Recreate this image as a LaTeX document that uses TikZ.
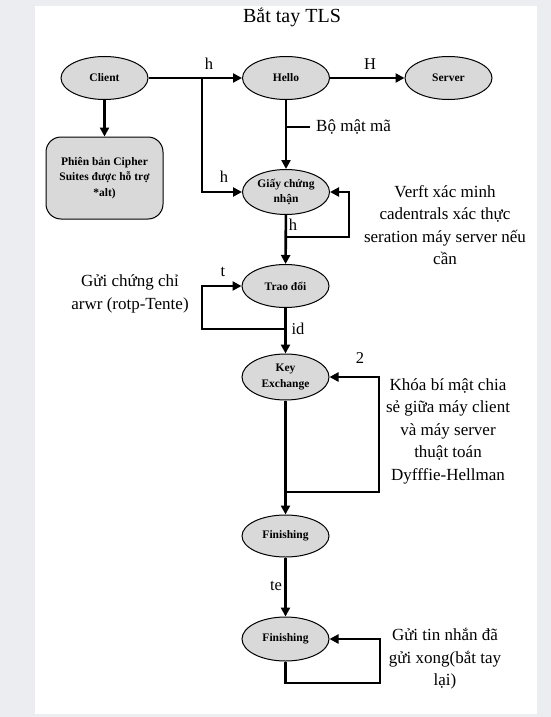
\documentclass[tikz,border=0pt]{standalone}
\usepackage{fontspec}
\setmainfont{Liberation Serif}
\usetikzlibrary{shapes.geometric,arrows.meta}
\definecolor{bggrey}{HTML}{ECEDF1}
\definecolor{nodegrey}{HTML}{D9D9D9}
\tikzset{
  ell/.style={ellipse,draw=black,line width=1pt,fill=nodegrey,minimum width=87pt,minimum height=43pt,inner sep=0pt,align=center,font=\fontsize{11.5}{15.5}\selectfont\bfseries},
  cbox/.style={rectangle,rounded corners=15pt,draw=black,line width=1pt,fill=nodegrey,minimum width=117pt,minimum height=82pt,inner sep=0pt,align=center,font=\fontsize{11.5}{15.5}\selectfont\bfseries},
  arr/.style={line width=2.6pt,-{Triangle[length=9pt,width=9pt]}},
  ln/.style={line width=2.6pt},
  lbl/.style={font=\fontsize{16.5}{18}\selectfont,inner sep=0pt},
  note/.style={font=\fontsize{17}{22.5}\selectfont,align=center,inner sep=0pt},
}
\begin{document}
\begin{tikzpicture}[x=1pt,y=-1pt]
\useasboundingbox (0,0) rectangle (551,717);
\fill[bggrey] (0,0) rectangle (551,717);
\fill[white] (35,6) rectangle (537,714);

\node[font=\fontsize{20}{24}\selectfont] (title) at (292,17) {Bắt tay TLS};

\node[ell] (client) at (104.5,78) {Client};
\node[ell] (hello) at (286,78) {Hello};
\node[ell] (server) at (448.5,78) {Server};
\node[cbox] (cipher) at (104.5,178) {Phiên bản Cipher\\Suites được hỗ trợ\\*alt)};
\node[ell,minimum height=45pt] (cert) at (286,192) {Giấy chứng\\nhận};
\node[ell] (trao) at (285.5,286) {Trao đổi};
\node[ell,minimum height=46pt] (key) at (285.5,377) {Key\\Exchange};
\node[ell,minimum height=42pt] (fin1) at (285.5,536) {Finishing};
\node[ell,minimum height=44pt] (fin2) at (285.5,639) {Finishing};

% top row
\coordinate (j1) at (202,78);
\draw[arr] (client) -- (hello);
\draw[arr] (j1) |- (cert.west);
\node[lbl] (lh1) at (209,64) {h};
\node[lbl] (lh2) at (224,177) {h};
\draw[arr] (hello) -- (server);
\node[lbl] (lH) at (370,64) {H};
\draw[arr] (client) -- (cipher);

% hello -> cert
\draw[arr] (hello) -- (cert);
\coordinate (b1) at (286,127);
\coordinate (b1r) at (310,127);
\draw[ln] (b1) -- (b1r);
\node[note,anchor=west] (bmm) at (316,127) {Bộ mật mã};

% cert -> trao and loop
\draw[arr] (cert) -- (trao);
\coordinate (c1) at (286,237);
\coordinate (c1r) at (349,237);
\draw[arr] (c1) -- (c1r) |- (cert.east);
\node[lbl] (lh3) at (293,225) {h};
\node[note] (verft) at (445,225) {Verft xác minh\\cadentrals xác thực\\seration máy server nếu\\cần};

% trao -> key and loop
\draw[arr] (trao) -- (key);
\coordinate (t1) at (285.5,329);
\coordinate (t1l) at (202,329);
\draw[arr] (t1) -- (t1l) |- (trao.west);
\node[lbl] (lt) at (223,272) {t};
\node[lbl] (lid) at (298,329) {id};
\node[note] (gui1) at (130,294) {Gửi chứng chỉ\\arwr (rotp-Tente)};

% key -> fin1 and loop
\draw[arr] (key) -- (fin1);
\coordinate (k1) at (285.5,492);
\coordinate (k1r) at (379,492);
\draw[arr] (k1) -- (k1r) |- (key.east);
\node[lbl] (l2) at (360,358) {2};
\node[note] (khoa) at (448,431) {Khóa bí mật chia\\sẻ giữa máy client\\và máy server\\thuật toán\\Dyfffie-Hellman};

% fin1 -> fin2 and loop
\draw[arr] (fin1) -- (fin2);
\node[lbl] (lte) at (276,586) {te};
\coordinate (f2r) at (380,683);
\draw[arr] (fin2.south) |- (f2r) |- (fin2.east);
\node[note] (gui2) at (445,659) {Gửi tin nhắn đã\\gửi xong(bắt tay\\lại)};
\end{tikzpicture}
\end{document}
